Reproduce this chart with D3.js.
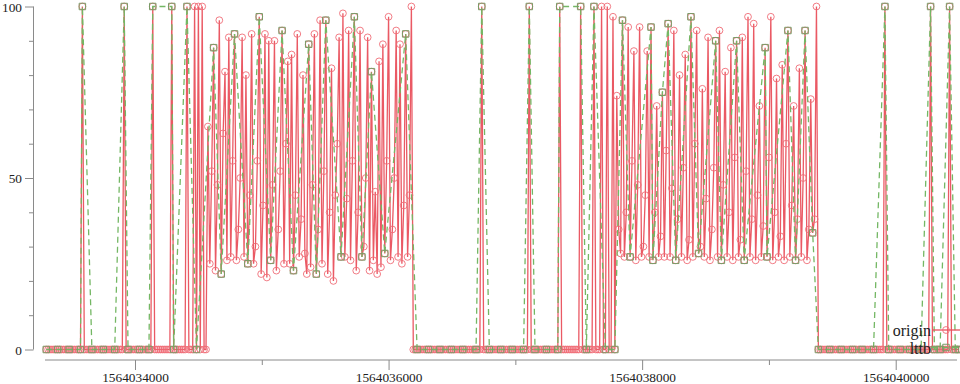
<!DOCTYPE html>
<html>
<head>
<meta charset="utf-8">
<script src="https://cdn.jsdelivr.net/npm/d3@7"></script>
<style>
  html, body { margin: 0; padding: 0; background: #fff; }
  svg { display: block; }
  text { font-family: "Liberation Serif", "Times New Roman", serif; fill: #222; }
</style>
</head>
<body>
<svg id="chart" width="960" height="384"></svg>
<script>
// ---- data ----
const startTime = 1564033300;   // first sample (unix seconds)
const stepSeconds = 15;         // sampling interval of the origin series
const originValues = [
  0,0,0,0,0,0,0,0,0,0,0,0,0,0,0,0,0,0,0,100,
  0,0,0,0,0,0,0,0,0,0,0,0,0,0,0,0,0,0,0,0,
  0,100,0,0,0,0,0,0,0,0,0,0,0,0,0,0,100,0,0,0,
  0,0,0,0,0,0,100,0,0,0,0,0,0,0,100,0,0,0,100,0,
  100,0,100,0,0,65,25,52,88,23,48,96,22,63,81,26,91,27,55,92,
  26,35,50,91,27,80,25,45,92,25,30,55,97,22,42,92,21,90,26,48,
  90,23,35,52,93,25,60,84,25,86,23,45,92,27,38,80,28,22,89,24,
  48,92,22,35,96,25,52,96,22,40,82,20,45,60,91,27,98,27,44,93,
  26,55,97,23,40,93,27,30,50,91,23,81,26,46,22,84,24,89,28,55,
  97,26,35,50,93,27,89,25,42,92,27,45,100,0,0,0,0,0,0,0,
  0,0,0,0,0,0,0,0,0,0,0,0,0,0,0,0,0,0,0,0,
  0,0,0,0,0,0,0,0,0,100,0,0,0,0,0,0,0,0,0,0,
  0,0,0,0,0,0,0,0,0,0,0,0,0,0,100,0,0,0,0,0,
  0,0,0,0,0,0,0,0,0,0,100,0,0,0,0,0,0,0,0,0,
  0,100,0,0,0,0,0,0,100,0,0,0,100,0,0,100,0,0,97,0,
  74,35,28,96,27,40,94,27,55,87,26,48,94,27,30,45,87,27,94,26,
  40,71,27,33,75,27,58,95,27,47,93,26,38,80,27,53,86,26,32,97,
  27,60,93,28,30,76,27,44,91,26,35,53,90,27,93,26,48,81,27,40,
  88,26,56,90,27,32,91,26,52,97,27,38,95,26,45,71,27,36,88,27,
  56,97,26,40,79,27,33,83,26,60,93,27,42,71,26,38,82,27,50,93,
  26,35,73,34,38,100,0,0,0,0,0,0,0,0,0,0,0,0,0,0,
  0,0,0,0,0,0,0,0,0,0,0,0,0,0,0,0,0,0,0,0,
  0,100,0,0,0,0,0,0,0,0,0,0,0,0,0,0,0,0,0,0,
  0,0,0,0,0,100,0,0,0,0,0,0,0,0,0,100,0,0,0,0,
  0
];
// indices of the origin samples kept by the lttb downsampling
const lttbIndex = [
  0,6,12,18,19,24,30,36,41,43,49,54,56,66,67,74,79,88,
  92,99,106,112,118,124,130,138,142,147,155,162,166,171,178,189,
  195,201,207,213,219,226,229,233,239,245,251,254,257,263,269,270,281,284,288,294,299,
  303,307,318,319,324,327,331,339,343,352,355,363,367,378,379,390,394,399,403,406,
  412,418,424,429,435,441,443,449,454,460,465,467,470,475,478,480
];
const seriesNames = ["origin", "lttb"];
const xMajorTicks = [1564034000, 1564036000, 1564038000, 1564040000];
const xMinorTicks = [1564035000, 1564037000, 1564039000];
const yMajorTicks = [0, 50, 100];
const yMinorTicks = [10, 20, 30, 40, 60, 70, 80, 90];

// ---- build series ----
const origin = originValues.map((v, i) => ({ t: startTime + i * stepSeconds, v }));
const lttb = lttbIndex.map(i => origin[i]);

const svg = d3.select("#chart");
const x = d3.scaleLinear()
  .domain(d3.extent(origin, d => d.t))
  .range([46.25, 959.1]);
const y = d3.scaleLinear().domain([0, 100]).range([349.5, 6.5]);

const axisColor = "#8a8a8a";

// x axis
const xAxisY = 360;
svg.append("line")
  .attr("x1", 45).attr("x2", 957).attr("y1", xAxisY).attr("y2", xAxisY)
  .attr("stroke", axisColor).attr("stroke-width", 1);
const gxMinor = svg.append("g").attr("transform", `translate(0,${xAxisY})`)
  .call(d3.axisBottom(x).tickValues(xMinorTicks).tickSize(5).tickFormat(""));
const gx = svg.append("g").attr("transform", `translate(0,${xAxisY})`)
  .call(d3.axisBottom(x).tickValues(xMajorTicks).tickSize(10).tickFormat(d3.format("d")));
[gx, gxMinor].forEach(g => {
  g.select(".domain").remove();
  g.selectAll(".tick line").attr("stroke", axisColor);
});
gx.selectAll(".tick text")
  .attr("y", 0).attr("dy", 0)
  .attr("transform", "translate(0,21.5)")
  .style("font-family", '"Liberation Serif", serif')
  .style("font-size", "13.33px").attr("fill", "#222");

// y axis
const yAxisX = 33.5;
svg.append("line")
  .attr("x1", yAxisX).attr("x2", yAxisX).attr("y1", y(100)).attr("y2", y(0))
  .attr("stroke", axisColor).attr("stroke-width", 1);
const gyMinor = svg.append("g").attr("transform", `translate(${yAxisX},0)`)
  .call(d3.axisLeft(y).tickValues(yMinorTicks).tickSize(4.5).tickFormat(""));
const gy = svg.append("g").attr("transform", `translate(${yAxisX},0)`)
  .call(d3.axisLeft(y).tickValues(yMajorTicks).tickSize(8.5).tickFormat(d3.format("d")));
[gy, gyMinor].forEach(g => {
  g.select(".domain").remove();
  g.selectAll(".tick line").attr("stroke", axisColor);
});
gy.selectAll(".tick text")
  .attr("x", -11.5).attr("dy", "0.34em")
  .style("font-family", '"Liberation Serif", serif')
  .style("font-size", "13.33px").attr("fill", "#222");

// ---- series styles ----
const redLine = "#e9505c", redMark = "#ef6d77";
const greenLine = "#74b764", greenMark = "#7a9a66";

const line = d3.line().x(d => x(d.t)).y(d => y(d.v));

// origin
svg.append("path").datum(origin)
  .attr("d", line).attr("fill", "none")
  .attr("stroke", redLine).attr("stroke-width", 1.3).attr("stroke-opacity", 0.95);
svg.append("g").selectAll("circle").data(origin).join("circle")
  .attr("cx", d => x(d.t)).attr("cy", d => y(d.v)).attr("r", 3.4)
  .attr("fill", "none").attr("stroke", redMark).attr("stroke-width", 0.9);

// lttb
svg.append("path").datum(lttb)
  .attr("d", line).attr("fill", "none")
  .attr("stroke", greenLine).attr("stroke-width", 1.3)
  .attr("stroke-dasharray", "6,4");
const sq = d3.symbol().type(d3.symbolSquare).size(42);
svg.append("g").selectAll("path").data(lttb).join("path")
  .attr("transform", d => `translate(${x(d.t)},${y(d.v)})`)
  .attr("d", sq).attr("fill", "none")
  .attr("stroke", greenMark).attr("stroke-width", 1);

// ---- legend ----
const legend = svg.append("g");
const legendRows = [
  { name: seriesNames[0], y: 330, color: redLine, mark: redMark, dash: null, shape: "circle" },
  { name: seriesNames[1], y: 347.5, color: greenLine, mark: greenMark, dash: "6,4", shape: "square" }
];
legendRows.forEach(r => {
  legend.append("text")
    .attr("x", 931).attr("y", r.y + 6).attr("text-anchor", "end")
    .style("font-size", "16px").text(r.name);
  legend.append("line")
    .attr("x1", 932).attr("x2", 962).attr("y1", r.y).attr("y2", r.y)
    .attr("stroke", r.color).attr("stroke-width", 1.3)
    .attr("stroke-dasharray", r.dash);
  if (r.shape === "circle") {
    legend.append("circle").attr("cx", 946).attr("cy", r.y).attr("r", 3.4)
      .attr("fill", "none").attr("stroke", r.mark).attr("stroke-width", 0.9);
  } else {
    legend.append("path").attr("transform", `translate(946,${r.y})`)
      .attr("d", sq).attr("fill", "none").attr("stroke", r.mark).attr("stroke-width", 1);
  }
});
</script>
</body>
</html>
